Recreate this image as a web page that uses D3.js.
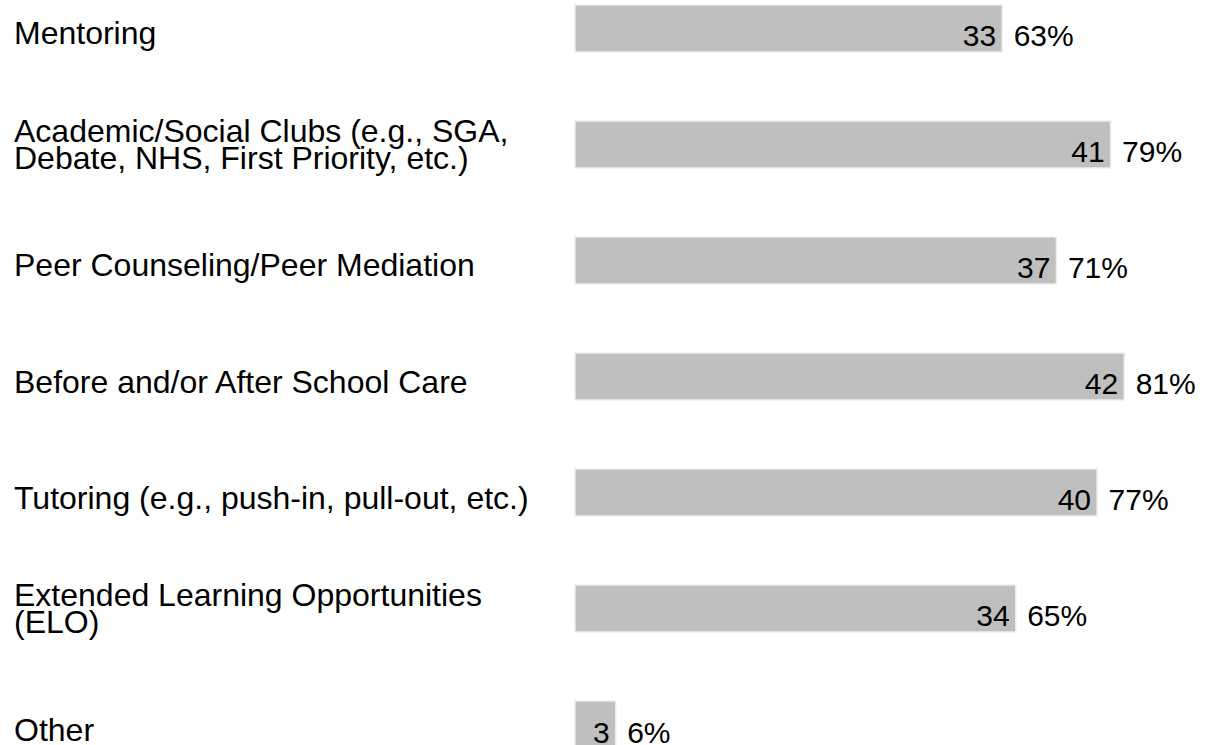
<!DOCTYPE html>
<html>
<head>
<meta charset="utf-8">
<script src="https://cdn.jsdelivr.net/npm/d3@7"></script>
<style>
  body { margin: 0; background: #fff; }
  svg text { font-family: "Liberation Sans", Arial, sans-serif; fill: #000; }
</style>
</head>
<body>
<div id="chart"></div>
<script>
// categories (label lines), counts and percents
var categories = [
    ["Mentoring"],
    ["Academic/Social Clubs (e.g., SGA,", "Debate, NHS, First Priority, etc.)"],
    ["Peer Counseling/Peer Mediation"],
    ["Before and/or After School Care"],
    ["Tutoring (e.g., push-in, pull-out, etc.)"],
    ["Extended Learning Opportunities", "(ELO)"],
    ["Other"]
];
var counts = [33, 41, 37, 42, 40, 34, 3];
var percents = [63, 79, 71, 81, 77, 65, 6];

var width = 1205, height = 745;

var svg = d3.select("#chart")
    .append("svg")
    .attr("width", width)
    .attr("height", height);

var rows = categories.map(function(c, i){
    return {key: "r" + i, lines: c, count: counts[i], pct: percents[i]};
});

// y band: step 116, bar height ~47
var y = d3.scaleBand()
    .domain(rows.map(function(d){ return d.key; }))
    .range([5, 748])
    .paddingInner(0.595)
    .paddingOuter(0);

var x = d3.scaleLinear()
    .domain([0, 100])
    .range([575, 1253]);

var g = svg.selectAll(".row")
    .data(rows)
    .enter().append("g")
    .attr("class", "row");

// bars
g.append("rect")
    .attr("x", x(0))
    .attr("y", function(d){ return y(d.key); })
    .attr("width", function(d){ return x(d.pct) - x(0); })
    .attr("height", y.bandwidth())
    .attr("fill", "#bfbfbf")
    .attr("stroke", "#ececec")
    .attr("stroke-width", 1.5);

// category labels
g.append("text")
    .attr("x", 14)
    .style("font-size", "32px")
    .each(function(d){
        var c = y(d.key) + y.bandwidth() / 2;
        var first = d.lines.length > 1 ? c - 2.5 : c + 16;
        d3.select(this).selectAll("tspan")
            .data(d.lines)
            .enter().append("tspan")
            .attr("x", 14)
            .attr("y", function(l, j){ return first + j * 27; })
            .text(function(l){ return l; });
    });

// count inside the bar end
g.append("text")
    .attr("x", function(d){ return x(d.pct) - 6; })
    .attr("y", function(d){ return y(d.key) + y.bandwidth() - 5.5; })
    .attr("text-anchor", "end")
    .style("font-size", "30px")
    .text(function(d){ return d.count; });

// percent after the bar
g.append("text")
    .attr("x", function(d){ return x(d.pct) + 11.5; })
    .attr("y", function(d){ return y(d.key) + y.bandwidth() - 5.5; })
    .style("font-size", "30px")
    .text(function(d){ return d.pct + "%"; });
</script>
</body>
</html>
